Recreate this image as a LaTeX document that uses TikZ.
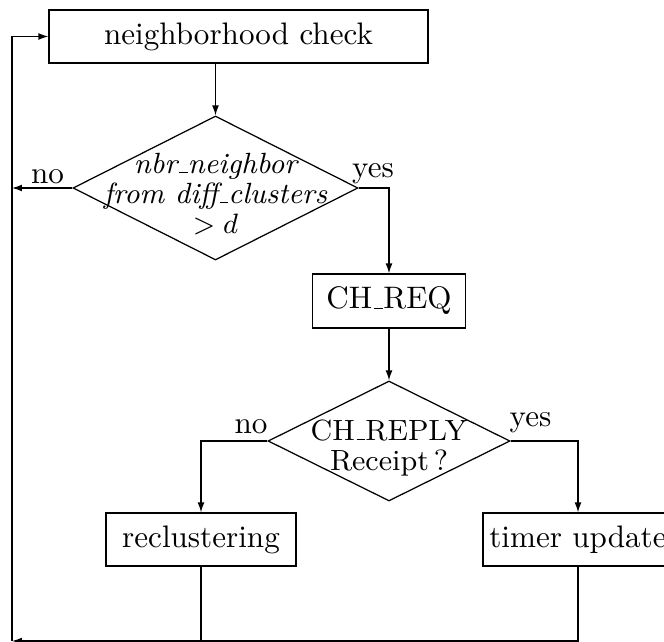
\documentclass[tikz,border=0pt]{standalone}
\usetikzlibrary{shapes.geometric,arrows.meta}
\newcommand\usc{\leavevmode\kern.06em\vbox{\hrule width.3em}}
\begin{document}
\begin{tikzpicture}[x=0.3215pt,y=-0.3215pt,
  line width=0.4pt,
  >={Latex[length=3.2pt,width=2.2pt]},
  box/.style={draw,rectangle,inner sep=0pt,minimum height=53*0.3215pt},
  dia/.style={draw,diamond,inner sep=0pt},
  diatext/.style={align=center,inner sep=0pt,font=\fontsize{9.4pt}{9.65pt}\selectfont},
  lbl/.style={inner sep=0pt,anchor=base}]
\clip (0,0) rectangle (664,642);
% boxes
\node[box,minimum width=379*0.3215pt] (check) at (238.5,36.5) {neighborhood check};
\node[box,minimum width=153*0.3215pt,minimum height=54*0.3215pt] (chreq) at (389,301) {CH\usc REQ};
\node[box,minimum width=190*0.3215pt] (recl) at (201,539.5) {reclustering};
\node[box,minimum width=190*0.3215pt] (timer) at (578,539.5) {timer update};
% diamonds
\node[dia,minimum width=285*0.3215pt,minimum height=144*0.3215pt] (d1) at (215.5,188) {};
\node[diatext,font=\fontsize{9.4pt}{9.65pt}\selectfont\itshape] (d1t) at (215.5,194) {nbr\usc neighbor\\from diff\usc clusters\\$>d$};
\node[dia,minimum width=242*0.3215pt,minimum height=120*0.3215pt] (d2) at (389,441) {};
\node[diatext] (d2t) at (389,448) {CH\usc REPLY\\Receipt\,?};
% labels
\node[lbl] (no1) at (47.5,184) {no};
\node[lbl] (yes1) at (373,178) {yes};
\node[lbl] (no2) at (251,434) {no};
\node[lbl] (yes2) at (530.5,426.5) {yes};
% corner
\coordinate (bl) at (12,641);
% connectors
\draw[->] (d1 |- check.south) -- (d1.north);
\draw[->] (d1.west) -- (d1.west -| bl);
\draw[->] (d1.east) -| (chreq.north);
\draw[->] (chreq.south) -- (d2.north);
\draw[->] (d2.west) -| (recl.north);
\draw[->] (d2.east) -| (timer.north);
\draw (recl.south) -- (recl.south |- bl);
\draw[->] (timer.south) |- (bl);
\draw[->] (bl) |- (check.west);
\end{tikzpicture}
\end{document}
